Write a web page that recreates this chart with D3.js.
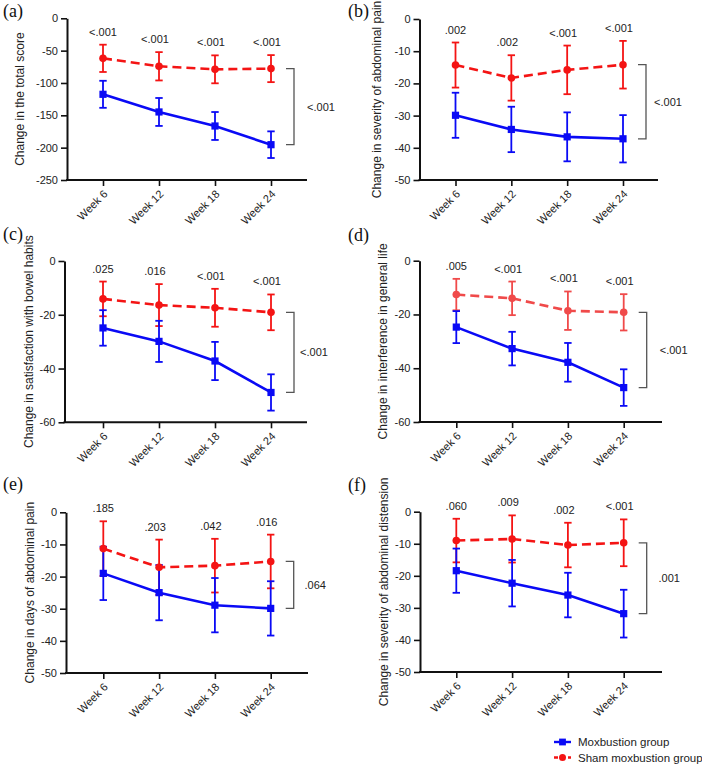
<!DOCTYPE html>
<html>
<head>
<meta charset="utf-8">
<script src="https://cdn.jsdelivr.net/npm/d3@7"></script>
<style>
  html, body { margin: 0; padding: 0; background: #fff; }
  svg { display: block; font-family: "Liberation Sans", Arial, sans-serif; }
  svg text { font-family: "Liberation Sans", Arial, sans-serif; }
  svg text.letter { font-family: "Liberation Serif", "Times New Roman", serif; }
</style>
</head>
<body>
<svg id="chart" width="702" height="766"></svg>
<script>
// ---------------- DATA ----------------
const weeks = ["Week 6", "Week 12", "Week 18", "Week 24"];
const groups = ["Moxbustion group", "Sham moxbustion group"];

// (a) total score
const moxA = [-117.5, -144.8, -166.5, -195.4];
const moxAErr = [20.9, 21.6, 21.6, 20.6];
const shamA = [-61.9, -74.2, -78.9, -77.8];
const shamAErr = [21.1, 21.9, 21.6, 20.9];
const pA = ["<.001", "<.001", "<.001", "<.001"];
const pAOverall = "<.001";
const ticksA = [0, -50, -100, -150, -200, -250];

// (b) severity of abdominal pain
const moxB = [-29.9, -34.3, -36.6, -37.2];
const moxBErr = [7.0, 7.05, 7.6, 7.35];
const shamB = [-14.3, -18.3, -15.8, -14.2];
const shamBErr = [7.0, 7.05, 7.55, 7.4];
const pB = [".002", ".002", "<.001", "<.001"];
const pBOverall = "<.001";
const ticksB = [0, -10, -20, -30, -40, -50];

// (c) satisfaction with bowel habits
const moxC = [-24.9, -29.9, -37.2, -48.9];
const moxCErr = [6.6, 7.65, 7.1, 6.75];
const shamC = [-14.1, -16.4, -17.4, -19.1];
const shamCErr = [6.45, 7.8, 7.05, 6.65];
const pC = [".025", ".016", "<.001", "<.001"];
const pCOverall = "<.001";
const ticksC = [0, -20, -40, -60];

// (d) interference in general life
const moxD = [-24.7, -32.7, -37.8, -47.2];
const moxDErr = [5.95, 6.25, 7.2, 6.8];
const shamD = [-12.6, -14.0, -18.6, -19.2];
const shamDErr = [5.85, 6.25, 7.15, 6.75];
const pD = [".005", "<.001", "<.001", "<.001"];
const pDOverall = "<.001";
const ticksD = [0, -20, -40, -60];

// (e) days of abdominal pain
const moxE = [-19.0, -25.0, -28.9, -29.9];
const moxEErr = [8.3, 8.6, 8.45, 8.45];
const shamE = [-11.3, -17.1, -16.6, -15.3];
const shamEErr = [8.5, 8.6, 8.35, 8.35];
const pE = [".185", ".203", ".042", ".016"];
const pEOverall = ".064";
const ticksE = [0, -10, -20, -30, -40, -50];

// (f) severity of abdominal distension
const moxF = [-18.4, -22.3, -26.0, -31.8];
const moxFErr = [6.9, 7.25, 6.95, 7.45];
const shamF = [-9.0, -8.5, -10.4, -9.7];
const shamFErr = [6.8, 7.35, 6.95, 7.3];
const pF = [".060", ".009", ".002", "<.001"];
const pFOverall = ".001";
const ticksF = [0, -10, -20, -30, -40, -50];

const titles = [
  "Change in the total score",
  "Change in severity of abdominal pain",
  "Change in satisfaction with bowel habits",
  "Change in interference in general life",
  "Change in days of abdominal pain",
  "Change in severity of abdominal distension"
];
const panelLetters = ["(a)", "(b)", "(c)", "(d)", "(e)", "(f)"];

// ---------------- LAYOUT / STYLE ----------------
const BLUE = "#0a0af5";
const RED = "#f41414";
const FONT = "'Liberation Sans', Arial, sans-serif";
const layout = [
  {ox: 67,    top: 18.3,  bottom: 180,   xEnd: 307, x0: 103,   x1: 271,   titleX: 19.5,  lx: 3,   ly: 16.5, plx: 27, red: RED},
  {ox: 419.5, top: 19,    bottom: 180,   xEnd: 658, x0: 455.5, x1: 623,   titleX: 376.5, lx: 348, ly: 16.5, plx: 22, red: RED},
  {ox: 64.5,  top: 261,   bottom: 422.3, xEnd: 307, x0: 103,   x1: 271,   titleX: 28.5,  lx: 3,   ly: 240,  plx: 20, red: RED},
  {ox: 419.5, top: 260.7, bottom: 422,   xEnd: 662, x0: 456.3, x1: 623.7, titleX: 382.5, lx: 348, ly: 240.5, plx: 27, red: "#f04a4a"},
  {ox: 66,    top: 512.3, bottom: 673,   xEnd: 308, x0: 103.3, x1: 270.7, titleX: 29.5,  lx: 3,   ly: 490,  plx: 21.5, red: RED},
  {ox: 420,   top: 511.7, bottom: 672,   xEnd: 662, x0: 456.3, x1: 623.7, titleX: 383.5, lx: 348, ly: 490.5, plx: 22.5, red: RED}
];

const panels = [
  {mox: moxA, moxErr: moxAErr, sham: shamA, shamErr: shamAErr, p: pA, pAll: pAOverall, ticks: ticksA},
  {mox: moxB, moxErr: moxBErr, sham: shamB, shamErr: shamBErr, p: pB, pAll: pBOverall, ticks: ticksB},
  {mox: moxC, moxErr: moxCErr, sham: shamC, shamErr: shamCErr, p: pC, pAll: pCOverall, ticks: ticksC},
  {mox: moxD, moxErr: moxDErr, sham: shamD, shamErr: shamDErr, p: pD, pAll: pDOverall, ticks: ticksD},
  {mox: moxE, moxErr: moxEErr, sham: shamE, shamErr: shamEErr, p: pE, pAll: pEOverall, ticks: ticksE},
  {mox: moxF, moxErr: moxFErr, sham: shamF, shamErr: shamFErr, p: pF, pAll: pFOverall, ticks: ticksF}
];

const svg = d3.select("#chart");

panels.forEach((P, i) => {
  const L = layout[i];
  const red = L.red;
  const g = svg.append("g");
  const x = d3.scalePoint().domain(weeks).range([L.x0, L.x1]);
  const y = d3.scaleLinear().domain([d3.min(P.ticks), d3.max(P.ticks)]).range([L.bottom, L.top]);

  // y axis
  const ya = g.append("g").attr("transform", `translate(${L.ox},0)`)
    .call(d3.axisLeft(y).tickValues(P.ticks).tickFormat(d => String(d)).tickSize(6).tickSizeOuter(0).tickPadding(3));
  ya.attr("font-family", FONT);
  ya.select(".domain").attr("stroke", "#111").attr("stroke-width", 2);
  ya.selectAll(".tick line").attr("stroke", "#111").attr("stroke-width", 1.6);
  ya.selectAll(".tick text").attr("font-size", 11).attr("fill", "#222");

  // x axis
  const xa = g.append("g").attr("transform", `translate(0,${L.bottom})`)
    .call(d3.axisBottom(x).tickSize(6).tickSizeOuter(0));
  xa.attr("font-family", FONT);
  xa.select(".domain").remove();
  xa.append("line").attr("x1", L.ox - 1).attr("x2", L.xEnd).attr("y1", 0).attr("y2", 0)
    .attr("stroke", "#111").attr("stroke-width", 2);
  xa.selectAll(".tick line").attr("stroke", "#111").attr("stroke-width", 1.6);
  xa.selectAll(".tick text")
    .attr("font-size", 11).attr("fill", "#222")
    .attr("text-anchor", "end")
    .attr("x", 0).attr("y", 0).attr("dy", "0.35em")
    .attr("transform", "translate(2,12) rotate(-45)");

  // y title
  const cy = (L.top + L.bottom) / 2;
  g.append("text")
    .attr("transform", `translate(${L.titleX},${cy}) rotate(-90)`)
    .attr("text-anchor", "middle").attr("dy", "0.35em")
    .attr("font-size", 12).attr("fill", "#222")
    .text(titles[i]);

  // panel letter
  g.append("text").attr("class", "letter").attr("x", L.lx).attr("y", L.ly)
    .attr("font-size", 18).attr("fill", "#111")
    .text(panelLetters[i]);

  const capW = 3.7;
  function errBars(vals, errs, color) {
    const eg = g.append("g").attr("stroke", color).attr("stroke-width", 1.8).attr("fill", "none");
    weeks.forEach((w, k) => {
      const cx = x(w), yt = y(vals[k] + errs[k]), yb = y(vals[k] - errs[k]);
      eg.append("line").attr("x1", cx).attr("x2", cx).attr("y1", yt).attr("y2", yb);
      eg.append("line").attr("x1", cx - capW).attr("x2", cx + capW).attr("y1", yt).attr("y2", yt);
      eg.append("line").attr("x1", cx - capW).attr("x2", cx + capW).attr("y1", yb).attr("y2", yb);
    });
  }
  const line = d3.line().x((d, k) => x(weeks[k])).y(d => y(d));

  // sham error bars (under)
  errBars(P.sham, P.shamErr, red);
  // moxibustion
  g.append("path").datum(P.mox).attr("d", line).attr("fill", "none")
    .attr("stroke", BLUE).attr("stroke-width", 2.6);
  errBars(P.mox, P.moxErr, BLUE);
  g.selectAll(null).data(P.mox).enter().append("rect")
    .attr("x", (d, k) => x(weeks[k]) - 3.6).attr("y", d => y(d) - 3.6)
    .attr("width", 7.2).attr("height", 7.2).attr("fill", BLUE);
  // sham line + markers
  g.append("path").datum(P.sham).attr("d", line).attr("fill", "none")
    .attr("stroke", red).attr("stroke-width", 2.6).attr("stroke-dasharray", "9,5");
  g.selectAll(null).data(P.sham).enter().append("circle")
    .attr("cx", (d, k) => x(weeks[k])).attr("cy", d => y(d)).attr("r", 3.8).attr("fill", red);

  // p-values per week
  g.selectAll(null).data(P.p).enter().append("text")
    .attr("x", (d, k) => x(weeks[k]) + (k === 0 ? 0 : -4))
    .attr("y", (d, k) => y(P.sham[k] + P.shamErr[k]) - 9)
    .attr("text-anchor", "middle").attr("font-size", 11).attr("fill", "#222")
    .text(d => d);

  // bracket
  const last = weeks[weeks.length - 1];
  const bx0 = x(last) + 15, bx1 = x(last) + 23;
  const by0 = y(P.sham[3]), by1 = y(P.mox[3]);
  g.append("path")
    .attr("d", `M${bx0},${by0}H${bx1}V${by1}H${bx0}`)
    .attr("fill", "none").attr("stroke", "#555").attr("stroke-width", 1.3);
  g.append("text").attr("x", bx1 + L.plx).attr("y", (by0 + by1) / 2).attr("dy", "0.35em")
    .attr("text-anchor", "middle").attr("font-size", 11).attr("fill", "#222")
    .text(P.pAll);
});

// legend
const lg = svg.append("g");
const legendRows = [742, 757.5];
groups.forEach((name, k) => {
  const yy = legendRows[k];
  const color = k === 0 ? BLUE : RED;
  lg.append("line").attr("x1", 554).attr("x2", 571).attr("y1", yy).attr("y2", yy)
    .attr("stroke", color).attr("stroke-width", 2.4)
    .attr("stroke-dasharray", k === 0 ? null : "4,3");
  if (k === 0) {
    lg.append("rect").attr("x", 562.5 - 3.4).attr("y", yy - 3.4).attr("width", 6.8).attr("height", 6.8).attr("fill", color);
  } else {
    lg.append("circle").attr("cx", 562.5).attr("cy", yy).attr("r", 3.5).attr("fill", color);
  }
  lg.append("text").attr("x", 578).attr("y", yy).attr("dy", "0.35em")
    .attr("font-size", 11.5).attr("fill", "#222").text(name);
});
</script>
</body>
</html>
